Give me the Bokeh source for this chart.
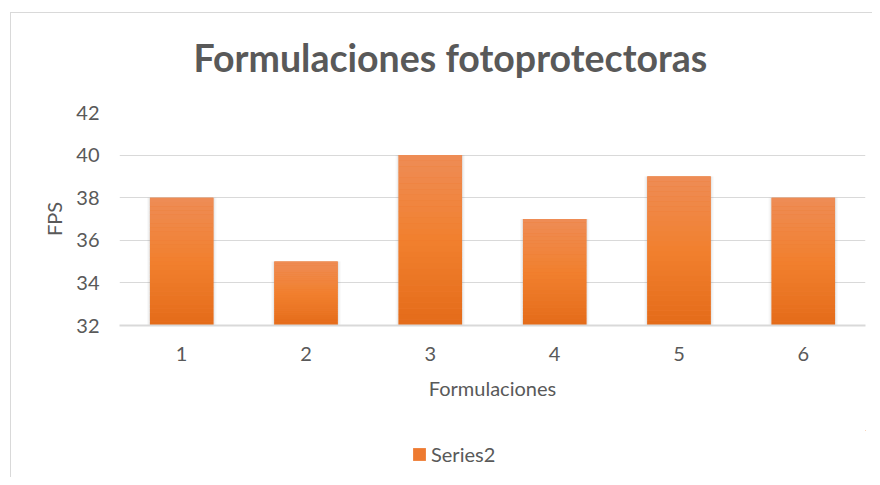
from bokeh.plotting import figure
from bokeh.layouts import column
from bokeh.models import Range1d, FixedTicker, Legend, LegendItem, ColumnDataSource
from bokeh.embed import file_html
from bokeh.resources import INLINE

categories = [1, 2, 3, 4, 5, 6]
fps_values = [38, 35, 40, 37, 39, 38]
y_ticks = [32, 34, 36, 38, 40, 42]
series_name = "Series2"

Y_MIN, Y_MAX = 32, 42
BAR_W = 0.51
TXT = "#595959"
FONT = "Lato"
BAR_COLOR = "#EE7A30"

p = figure(width=872, height=430, output_backend="svg", toolbar_location=None,
           x_range=Range1d(0.5, 6.5), y_range=Range1d(Y_MIN, Y_MAX),
           min_border_left=119, min_border_right=7, min_border_top=112,
           min_border_bottom=105)
p.outline_line_color = None
p.border_fill_alpha = 0
p.background_fill_color = "white"
p.styles = {
    "background-color": "white",
    "background-image": "linear-gradient(#d9d9d9, #d9d9d9), linear-gradient(#d9d9d9, #d9d9d9)",
    "background-size": "1px 100%, 100% 1px",
    "background-position": "10px 12px, 10px 12px",
    "background-repeat": "no-repeat",
}

# soft shadow layers
for w, a in [(BAR_W + 0.05, 0.05), (BAR_W + 0.03, 0.07), (BAR_W + 0.015, 0.09)]:
    p.vbar(x=categories, top=fps_values, bottom=Y_MIN, width=w,
           fill_color="#808080", fill_alpha=a, line_color=None)

p.vbar(x=categories, top=fps_values, bottom=Y_MIN, width=BAR_W,
       fill_color=BAR_COLOR, line_color=None)

# gradient slices (top light -> bottom dark)
def lerp(c1, c2, t):
    return "#%02x%02x%02x" % tuple(int(round(a + (b - a) * t)) for a, b in zip(c1, c2))

top_c = (238, 140, 86)
mid_c = (241, 128, 46)
bot_c = (228, 107, 25)
N = 30
xs, tops, bots, cols = [], [], [], []
for c, v in zip(categories, fps_values):
    h = (v - Y_MIN) / N
    for k in range(N):
        t = (k + 0.5) / N
        if t < 0.5:
            col = lerp(bot_c, mid_c, t / 0.5)
        else:
            col = lerp(mid_c, top_c, (t - 0.5) / 0.5)
        xs.append(c)
        bots.append(Y_MIN + k * h)
        tops.append(Y_MIN + (k + 1) * h + 0.002)
        cols.append(col)
src = ColumnDataSource(dict(x=xs, top=tops, bottom=bots, color=cols))
p.vbar(x="x", top="top", bottom="bottom", width=BAR_W, fill_color="color",
       line_color=None, source=src)

# title
p.title.text = "Formulaciones fotoprotectoras"
p.title.align = "left"
p.title.text_font = FONT
p.title.text_font_style = "bold"
p.title.text_font_size = "37.5px"
p.title.text_color = TXT
p.title.offset = 74
p.title.standoff = 65

# axes
p.xaxis.ticker = FixedTicker(ticks=categories)
p.yaxis.ticker = FixedTicker(ticks=y_ticks)
for ax in (p.xaxis[0], p.yaxis[0]):
    ax.major_tick_line_color = None
    ax.minor_tick_line_color = None
    ax.major_label_text_font = FONT
    ax.major_label_text_font_size = "20px"
    ax.major_label_text_color = TXT
    ax.axis_label_text_font = FONT
    ax.axis_label_text_font_size = "20px"
    ax.axis_label_text_font_style = "normal"
    ax.axis_label_text_color = TXT
p.yaxis.axis_line_color = None
p.xaxis.axis_line_color = "#D9D9D9"
p.xaxis.axis_line_width = 2
p.xaxis.axis_label = "Formulaciones"
p.yaxis.axis_label = "FPS"
p.yaxis.major_label_standoff = 14
p.yaxis.axis_label_standoff = 7
p.xaxis.major_label_standoff = 15
p.xaxis.axis_label_standoff = 12

p.xgrid.grid_line_color = None
p.ygrid.grid_line_color = "#D9D9D9"
p.ygrid.ticker = FixedTicker(ticks=y_ticks)

# legend strip below the chart (its own plot; the series lies outside its view)
p2 = figure(width=872, height=47, output_backend="svg", toolbar_location=None,
            x_range=Range1d(-20, -19), y_range=Range1d(-20, -19),
            x_axis_type=None, y_axis_type=None,
            min_border_left=0, min_border_right=0, min_border_top=0,
            min_border_bottom=0)
p2.outline_line_color = None
p2.grid.visible = False
p2.border_fill_alpha = 0
p2.background_fill_alpha = 0
p2.styles = {
    "background-color": "white",
    "background-image": "linear-gradient(#d9d9d9, #d9d9d9)",
    "background-size": "1px 100%",
    "background-position": "10px 0px",
    "background-repeat": "no-repeat",
}
legend_glyph = p2.vbar(x=categories, top=fps_values, bottom=Y_MIN, width=BAR_W,
                       fill_color=BAR_COLOR, line_color=None)
legend = Legend(items=[LegendItem(label=series_name, renderers=[legend_glyph])],
                location=(292, 11), orientation="horizontal",
                border_line_color=None, background_fill_alpha=0,
                padding=0, margin=0, glyph_width=16, glyph_height=16,
                label_standoff=4, label_text_font=FONT,
                label_text_font_size="20px", label_text_color=TXT)
p2.add_layout(legend, "center")

layout = column(p, p2, spacing=0)
open("out.html", "w").write(file_html(layout, INLINE))
